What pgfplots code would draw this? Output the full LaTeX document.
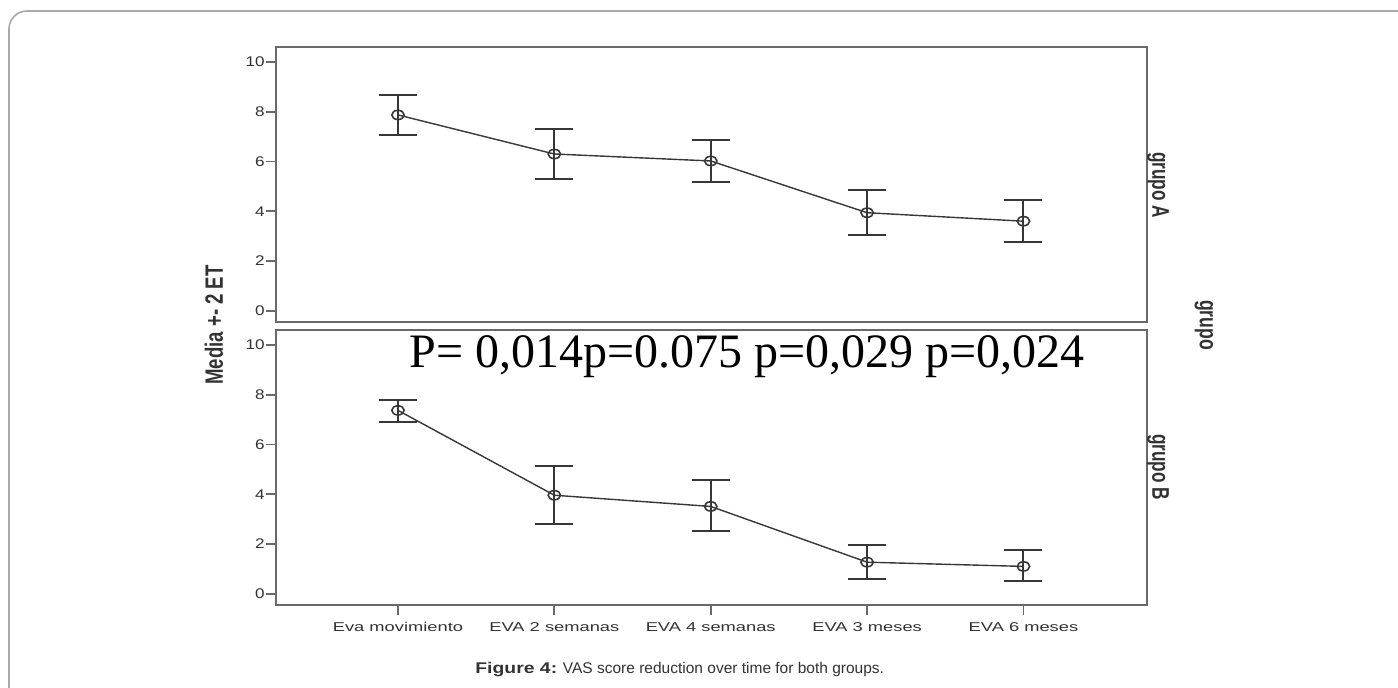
\documentclass[border=0pt]{standalone}
\usepackage{graphicx}
\usepackage{pgfplots}
\pgfplotsset{compat=1.18}
\usepackage{fontspec}
\setmainfont{Liberation Sans}
\newfontfamily\serifP{Liberation Serif}
\newfontfamily\wideb[FakeStretch=1.25]{Liberation Sans}
\newfontfamily\wide[FakeStretch=1.22]{Liberation Sans}
\newfontfamily\wider[FakeStretch=1.43]{Liberation Sans}
\definecolor{axgray}{RGB}{105,105,105}
\definecolor{datgray}{RGB}{55,55,55}
\definecolor{txtgray}{RGB}{50,50,50}
\definecolor{framegray}{RGB}{170,170,170}
\pgfplotsset{
  panel/.style={
    scale only axis, width=435.5pt, height=137.5pt, anchor=south west,
    xmin=-0.78, xmax=4.79, ymin=-0.45, ymax=10.6,
    ytick={0,2,4,6,8,10},
    ytick pos=left, tick align=outside,
    major tick length=5pt,
    axis line style={axgray, line width=0.9pt},
    every tick/.style={axgray, line width=0.9pt},
    /pgf/number format/assume math mode=true,
    yticklabel style={font=\wide\fontsize{7}{8}\selectfont, text=txtgray, inner xsep=0.5pt},
    xticklabel style={font=\wider\fontsize{6.4}{8}\selectfont, text=txtgray, text height=4.7pt, text depth=0.5pt},
  },
  ser/.style={
    datgray, line width=0.7pt, mark=o, mark size=2.3pt,
    mark options={line width=0.8pt, xscale=1.35},
    error bars/.cd, y dir=both, y explicit,
    error bar style={line width=1pt, datgray},
    error mark options={rotate=90, mark size=9.5pt, line width=1pt, datgray},
  },
}
\pgfplotstableread{
x y ep em
0 7.87 0.80 0.80
1 6.30 1.00 1.00
2 6.02 0.85 0.84
3 3.94 0.92 0.89
4 3.60 0.86 0.83
}\grupoA
\pgfplotstableread{
x y ep em
0 7.37 0.43 0.46
1 3.96 1.16 1.17
2 3.51 1.05 1.00
3 1.27 0.68 0.69
4 1.10 0.65 0.60
}\grupoB
\begin{document}
\begin{tikzpicture}[x=0.5pt,y=0.5pt]
\path[use as bounding box] (0,0) rectangle (1398,688);
\draw[framegray, line width=0.8pt, rounded corners=9pt] (9,677) rectangle (1430,-30);
\begin{axis}[panel, at={(138pt,183pt)}, xtick=\empty]
\addplot+[ser] table[x=x,y=y,y error plus=ep,y error minus=em] {\grupoA};
\end{axis}
\begin{axis}[panel, at={(138pt,41.5pt)}, xtick={0,1,2,3,4}, xtick pos=bottom,
  xticklabels={Eva movimiento, EVA 2 semanas, EVA 4 semanas, EVA 3 meses, EVA 6 meses}]
\addplot+[ser] table[x=x,y=y,y error plus=ep,y error minus=em] {\grupoB};
\end{axis}
\node[rotate=90, font=\bfseries\fontsize{9.3}{11}\selectfont, text=txtgray] at (214,363) {\scalebox{1}[1.35]{Media +- 2 ET}};
\node[rotate=-90, font=\bfseries\fontsize{8.6}{10}\selectfont, text=txtgray] at (1158,503) {\scalebox{1}[1.4]{grupo A}};
\node[rotate=-90, font=\bfseries\fontsize{8.8}{10}\selectfont, text=txtgray] at (1204,363) {\scalebox{1}[1.4]{grupo}};
\node[rotate=-90, font=\bfseries\fontsize{8.6}{10}\selectfont, text=txtgray] at (1158,221) {\scalebox{1}[1.4]{grupo B}};
\node[anchor=base west, inner sep=0pt, font=\serifP\fontsize{24}{28}\selectfont] at (409,320) {P= 0,014p=0.075 p=0,029 p=0,024};
\node[anchor=west, inner sep=0pt, font=\fontsize{7.75}{9}\selectfont, text=txtgray] at (475,18) {{\wideb\bfseries Figure 4:} VAS score reduction over time for both groups.};
\end{tikzpicture}
\end{document}
